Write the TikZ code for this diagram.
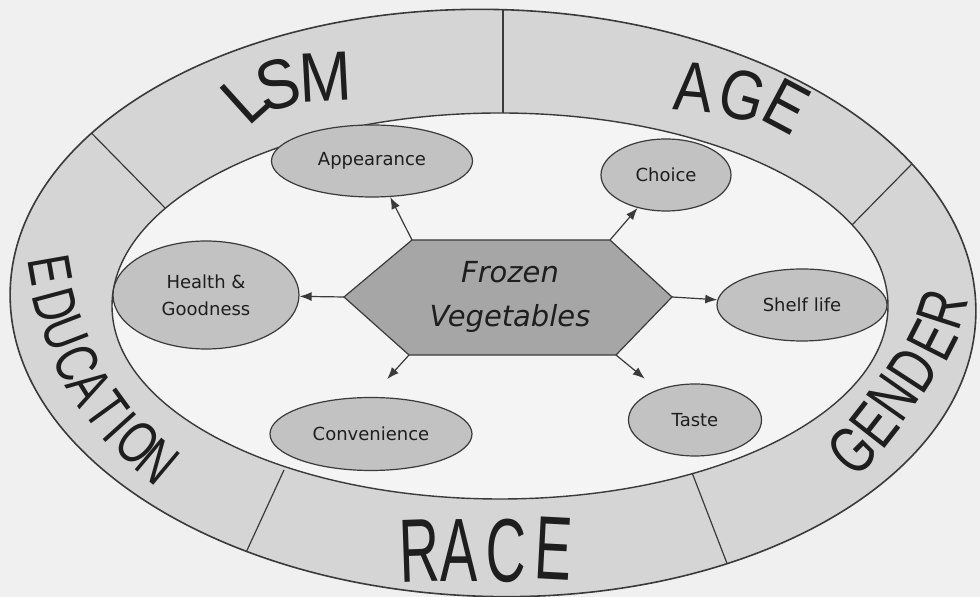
\documentclass[tikz,border=0pt]{standalone}
\usepackage{fontspec}
\usetikzlibrary{shapes.geometric,arrows.meta}
\newfontfamily\ringfont{Liberation Sans}
\newfontfamily\bubblefont{DejaVu Sans}[ItalicFont={DejaVu Sans Oblique}]

\tikzset{
  bubble/.style={ellipse,draw=lineGray,line width=0.6pt,fill=bubbleFill,inner sep=0pt,
    text=inkDark,font=\bubblefont\fontsize{9}{13.5}\selectfont,align=center},
  ringchar/.style={inner sep=0pt,text=inkDark,font=\ringfont\fontsize{#1}{#1}\selectfont},
  feeds/.style={-{Latex[length=6pt,width=4.5pt]},draw=lineGray,line width=0.6pt},
  ringtilt/.style={rotate around={-1.5:(493,303)}}
}

\begin{document}
\begin{tikzpicture}[x=0.5pt,y=-0.5pt]
\definecolor{paperGray}{HTML}{F0F0F0}
\definecolor{ringFill}{HTML}{D5D5D5}
\definecolor{innerFill}{HTML}{F4F4F4}
\definecolor{bubbleFill}{HTML}{C2C2C2}
\definecolor{hexFill}{HTML}{A6A6A6}
\definecolor{lineGray}{HTML}{3A3A3A}
\definecolor{inkDark}{HTML}{1E1E1E}
\useasboundingbox (0,0) rectangle (980,597);
\fill[paperGray] (0,0) rectangle (980,597);
\fill[ringFill,ringtilt] (493,303) ellipse [x radius=241.5pt,y radius=146.75pt];
\begin{scope}
\clip[ringtilt] (493,303) ellipse [x radius=241.5pt,y radius=146.75pt];
\foreach \xa/\ya/\xb/\yb in {503/113/503/-52,169/212/59/100,850/227/960/115,284/470/220/609,691/470/755/636}
  \draw[lineGray,line width=0.6pt] (\xa,\ya) -- (\xb,\yb);
\end{scope}
\draw[lineGray,line width=0.8pt,ringtilt] (493,303) ellipse [x radius=241.5pt,y radius=146.75pt];
\filldraw[fill=innerFill,draw=lineGray,line width=0.7pt] (500,306) ellipse [x radius=194pt,y radius=96.5pt];

\foreach \ch/\x/\y/\r [count=\i] in {L/245/98/42,S/278/85/16,M/325/77/3}
  \node[ringchar=35,rotate=\r] (lsm\i) at (\x,\y) {\scalebox{0.9}[1]{\ch}};
\foreach \ch/\x/\y/\r [count=\i] in {A/694/87/-5,G/743/95/-16,E/787/106/-28}
  \node[ringchar=35,rotate=\r] (age\i) at (\x,\y) {\scalebox{0.82}[1]{\ch}};
\foreach \ch/\x/\y/\r [count=\i] in {E/50/270/-80,D/55/305/-75,U/65/333/-69,C/77/363/-65,A/90/387/-58,T/107/410/-54,I/120/427/-48,O/138/443/-43,N/158/462/-40}
  \node[ringchar=30,rotate=\r] (edu\i) at (\x,\y) {\scalebox{0.72}[1]{\ch}};
\foreach \ch/\x/\y/\r [count=\i] in {G/852/450/45,E/874/425/52,N/893/397/55,D/913/370/57,E/932/340/63,R/942/309/72}
  \node[ringchar=33,rotate=\r] (gen\i) at (\x,\y) {\scalebox{0.72}[1]{\ch}};
\foreach \ch/\x/\y/\r [count=\i] in {R/420/551/2,A/459/551/0,C/506/551/-1,E/554/549/-3}
  \node[ringchar=45,rotate=\r] (race\i) at (\x,\y) {\scalebox{0.62}[1]{\ch}};

\coordinate (hexL) at (344,297);
\coordinate (hexTL) at (412,240);
\coordinate (hexTR) at (610,240);
\coordinate (hexR) at (672,297);
\coordinate (hexBR) at (616,355);
\coordinate (hexBL) at (409,355);
\filldraw[fill=hexFill,draw=lineGray,line width=0.6pt] (hexL) -- (hexTL) -- (hexTR) -- (hexR) -- (hexBR) -- (hexBL) -- cycle;
\node[text=inkDark,align=center,font=\bubblefont\itshape\fontsize{14.5}{22}\selectfont] (hex) at (510,297) {Frozen\\Vegetables};

\node[bubble,minimum width=100.5pt,minimum height=36pt] (appear) at (372,161) {Appearance};
\node[bubble,minimum width=65pt,minimum height=36pt] (choice) at (666,175) {Choice};
\node[bubble,minimum width=93pt,minimum height=54pt] (health) at (206,295) {Health \&\\Goodness};
\node[bubble,minimum width=85pt,minimum height=36pt] (shelf) at (802,305) {Shelf life};
\node[bubble,minimum width=101pt,minimum height=36.5pt] (conv) at (371,434) {Convenience};
\node[bubble,minimum width=66.5pt,minimum height=36pt] (taste) at (695,420) {Taste};

\draw[feeds] (hexTL) -- (appear);
\draw[feeds] (hexTR) -- (choice);
\draw[feeds] (hexL) -- (health);
\draw[feeds] (hexR) -- (shelf);
\draw[feeds,shorten >=12pt] (hexBL) -- (conv.north);
\draw[feeds,shorten >=8.5pt] (hexBR) -- (taste);
\end{tikzpicture}
\end{document}
